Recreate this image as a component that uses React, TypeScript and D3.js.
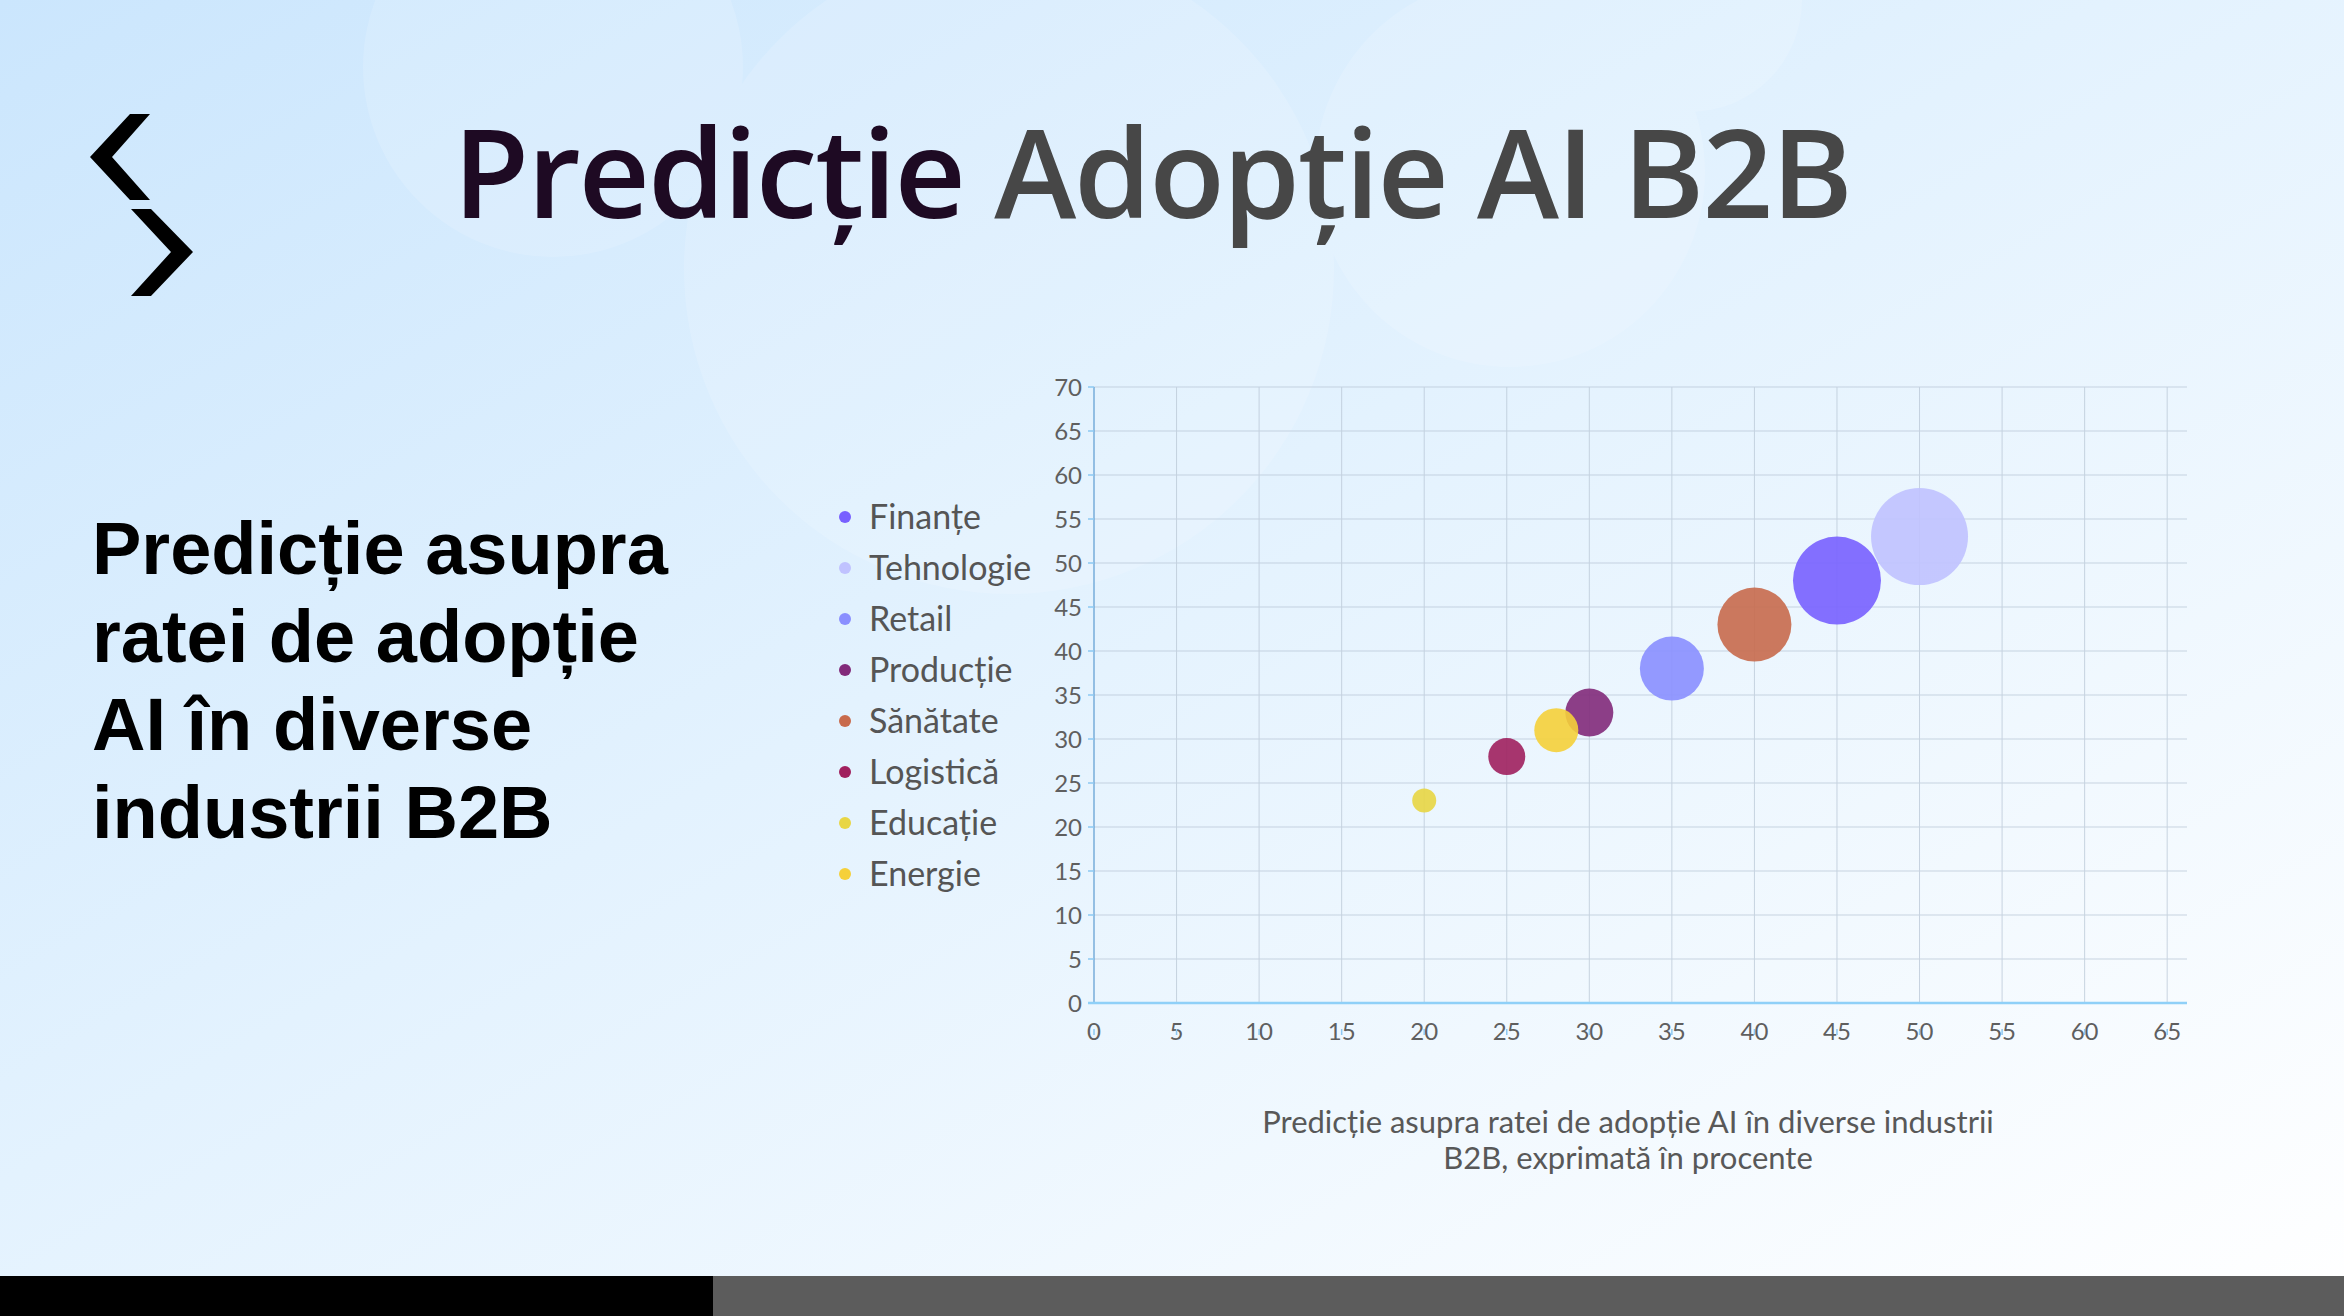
import React from 'react';
import * as d3 from 'd3';

const industries = ['Finanțe', 'Tehnologie', 'Retail', 'Producție', 'Sănătate', 'Logistică', 'Educație', 'Energie'];
const currentAdoption = [45, 50, 35, 30, 40, 25, 20, 28];
const predictedAdoption = [48, 53, 38, 33, 43, 28, 23, 31];
const bubbleSize = [88, 97, 64, 48, 74, 37, 24, 44];
const colors = ['#7860ff', '#c0c2ff', '#8a8fff', '#822a7a', '#c86a4c', '#a0205e', '#e8d644', '#f5d03a'];

const xTicks = [0, 5, 10, 15, 20, 25, 30, 35, 40, 45, 50, 55, 60, 65];
const yTicks = [0, 5, 10, 15, 20, 25, 30, 35, 40, 45, 50, 55, 60, 65, 70];

const sideText = ['Predicție asupra', 'ratei de adopție', 'AI în diverse', 'industrii B2B'];
const caption = ['Predicție asupra ratei de adopție AI în diverse industrii', 'B2B, exprimată în procente'];

const W = 2344;
const H = 1316;
const plot = { left: 1094, right: 2187, top: 387, bottom: 1003 };
const uiFont = 'Lato, "Open Sans", sans-serif';

export default function App() {
  document.body.style.margin = '0';

  const x = d3.scaleLinear().domain([0, 66.2]).range([plot.left, plot.right]);
  const y = d3.scaleLinear().domain([0, 70]).range([plot.bottom, plot.top]);
  const r = d3.scaleLinear().domain([0, 100]).range([0, 50]);

  const points = industries.map((name, i) => ({
    name,
    cx: x(currentAdoption[i]),
    cy: y(predictedAdoption[i]),
    rad: r(bubbleSize[i]),
    color: colors[i],
  }));

  return (
    <svg width={W} height={H} style={{ position: 'absolute', left: 0, top: 0 }} fontFamily={uiFont}>
      <defs>
        <linearGradient id="bg" x1="0" y1="0" x2="1" y2="1">
          <stop offset="0" stopColor="#cbe6fd" />
          <stop offset="0.45" stopColor="#e3f2fe" />
          <stop offset="1" stopColor="#ffffff" />
        </linearGradient>
      </defs>
      <rect width={W} height={H} fill="url(#bg)" />

      {/* soft cloud shapes behind the title */}
      <g fill="#ffffff" opacity={0.14}>
        <circle cx={553} cy={67} r={190} />
        <circle cx={1009} cy={269} r={325} />
        <circle cx={1510} cy={172} r={195} />
        <circle cx={1690} cy={0} r={112} />
      </g>

      {/* logo chevrons */}
      <polygon points="130,114 150,114 112,157 150,200 130,200 90,157" fill="#000" />
      <polygon points="131,209 151,209 193,252 151,296 131,296 171,252" fill="#000" />

      <text x={453} y={218} fontFamily='"Open Sans", sans-serif' fontSize={124} fontWeight={600}
        textLength={1400} lengthAdjust="spacing">
        <tspan fill="#1e0a23">Predicție</tspan>
        <tspan fill="#474747"> Adopție AI B2B</tspan>
      </text>

      {sideText.map((line, i) => (
        <text key={line} x={92} y={574 + i * 88} fontFamily='"Liberation Sans", Arial, sans-serif'
          fontWeight={700} fontSize={74} fill="#000">{line}</text>
      ))}

      {/* grid */}
      <g stroke="#b9c7d6" strokeWidth={1} opacity={0.75}>
        {yTicks.filter(t => t > 0).map(t => (
          <line key={'h' + t} x1={plot.left} x2={plot.right} y1={y(t)} y2={y(t)} />
        ))}
        {xTicks.filter(t => t > 0).map(t => (
          <line key={'v' + t} x1={x(t)} x2={x(t)} y1={plot.top} y2={plot.bottom} />
        ))}
      </g>

      {/* y axis */}
      <line x1={plot.left} x2={plot.left} y1={plot.top} y2={plot.bottom} stroke="#5b9bd0" strokeWidth={1.2} />
      {yTicks.map(t => (
        <g key={'y' + t}>
          <line x1={plot.left - 6} x2={plot.left} y1={y(t)} y2={y(t)} stroke="#8cc8f2" strokeWidth={1.5} />
          <text x={plot.left - 12} y={y(t)} dy="0.36em" textAnchor="end" fontSize={24} fill="#5f5f5f">{t}</text>
        </g>
      ))}

      {/* x axis */}
      <line x1={plot.left - 6} x2={plot.right} y1={plot.bottom} y2={plot.bottom} stroke="#8fd0f8" strokeWidth={2.5} />
      {xTicks.map(t => (
        <g key={'x' + t}>
          <text x={x(t)} y={1040} textAnchor="middle" fontSize={24} fill="#5f5f5f">{t}</text>
          <line x1={x(t)} x2={x(t)} y1={1029} y2={1035} stroke="#8cc8f2" strokeWidth={1.5} />
        </g>
      ))}

      {/* bubbles */}
      <g>
        {points.map(p => (
          <circle key={p.name} cx={p.cx} cy={p.cy} r={p.rad} fill={p.color} opacity={0.9} />
        ))}
      </g>

      {/* legend */}
      {industries.map((name, i) => (
        <g key={'l' + name} transform={`translate(845, ${517 + i * 51})`}>
          <circle r={6} fill={colors[i]} />
          <text x={24} dy="0.36em" fontSize={34} fill="#555">{name}</text>
        </g>
      ))}

      {caption.map((line, i) => (
        <text key={line} x={1628} y={1133 + i * 36} textAnchor="middle" fontSize={31} fill="#585858">{line}</text>
      ))}

      <rect x={0} y={1276} width={713} height={40} fill="#000" />
      <rect x={713} y={1276} width={W - 713} height={40} fill="#5c5c5c" />
    </svg>
  );
}
